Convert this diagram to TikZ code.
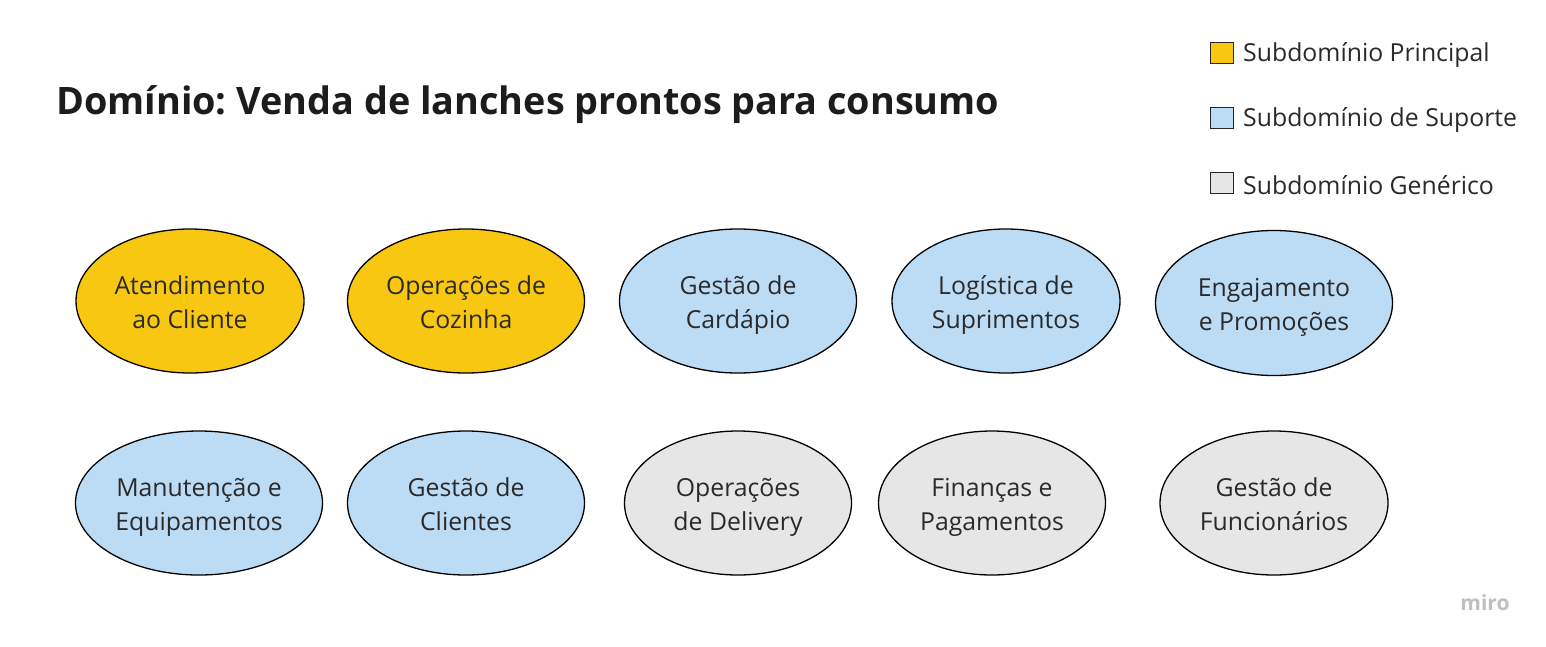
\documentclass[tikz,border=0pt]{standalone}
\usepackage{fontspec}
\setmainfont{Open Sans}
\usetikzlibrary{shapes.geometric}
\frenchspacing
\definecolor{coreY}{HTML}{F8C712}
\definecolor{suppB}{HTML}{BCDCF5}
\definecolor{genG}{HTML}{E6E6E6}
\definecolor{txt}{HTML}{1C1C1C}
\definecolor{ink}{HTML}{2A2A2A}
\newcommand{\twol}[2]{\rule{0pt}{31.5pt}#1\\\strut #2}
\tikzset{
  sub/.style={ellipse, draw=black, line width=1.3pt, minimum height=144pt, inner sep=0pt, align=center, font=\fontsize{24.8}{34}\selectfont, text=ink},
  core/.style={sub, fill=coreY},
  supp/.style={sub, fill=suppB},
  gen/.style={sub, fill=genG},
  legbox/.style={draw=black!85, line width=1.3pt, minimum width=23pt, minimum height=21pt, inner sep=0pt},
  legtxt/.style={anchor=west, font=\fontsize{24.8}{28}\selectfont, text=ink, inner sep=0pt},
}
\begin{document}
\begin{tikzpicture}[x=1pt,y=-1pt]
\useasboundingbox (0,0) rectangle (1546,646);
\fill[white] (0,0) rectangle (1546,646);
\node[anchor=west, inner sep=0pt, font=\bfseries\fontsize{37.8}{44}\selectfont, text=txt] (title) at (56,105) {Domínio: Venda de lanches prontos para consumo};

\node[legbox, fill=coreY] (l1) at (1222,53) {};
\node[legtxt] (l1t) at (1243,55) {Subdomínio Principal};
\node[legbox, fill=suppB] (l2) at (1222,118) {};
\node[legtxt] (l2t) at (1243,120) {Subdomínio de Suporte};
\node[legbox, fill=genG] (l3) at (1222,183) {};
\node[legtxt] (l3t) at (1243,185) {Subdomínio Genérico};

\node[core, minimum width=228pt] (a) at (190,301) {\twol{Atendimento}{ao Cliente}};
\node[core, minimum width=237pt] (b) at (466,301) {\twol{Operações de}{Cozinha}};
\node[supp, minimum width=237pt] (c) at (738,301) {\twol{Gestão de}{Cardápio}};
\node[supp, minimum width=228pt] (d) at (1006,301) {\twol{Logística de}{Suprimentos}};
\node[supp, minimum width=237pt, minimum height=145pt] (e) at (1274,303) {\twol{Engajamento}{e Promoções}};

\node[supp, minimum width=247pt] (f) at (199,503) {\twol{Manutenção e}{Equipamentos}};
\node[supp, minimum width=237pt] (g) at (466,503) {\twol{Gestão de}{Clientes}};
\node[gen, minimum width=227pt] (h) at (738,503) {\twol{Operações}{de Delivery}};
\node[gen, minimum width=227pt] (i) at (992,503) {\twol{Finanças e}{Pagamentos}};
\node[gen, minimum width=228pt] (j) at (1274,503) {\twol{Gestão de}{Funcionários}};

\node[inner sep=0pt, font=\fontsize{21}{22}\selectfont\bfseries, text=black!25] (miro) at (1485,603) {miro};
\end{tikzpicture}
\end{document}
